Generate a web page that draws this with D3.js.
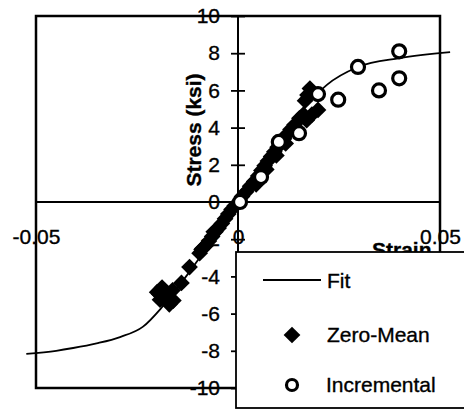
<!DOCTYPE html>
<html>
<head>
<meta charset="utf-8">
<script src="https://cdn.jsdelivr.net/npm/d3@7/dist/d3.min.js"></script>
<style>
  html, body { margin: 0; padding: 0; background: #fff; }
  svg { display: block; }
  text { font-family: "Liberation Sans", Arial, sans-serif; fill: #000; stroke: #000; stroke-width: 0.35px; }
</style>
</head>
<body>
<svg id="chart" width="464" height="411"></svg>
<script>
// Axis ticks
const xTicks = [-0.05, 0, 0.05];
const yTicks = [-10, -8, -6, -4, -2, 0, 2, 4, 6, 8, 10];

// Fitted stress-strain curve
const fitStrain = [-0.0524, -0.045, -0.0408, -0.035, -0.0292, -0.0235, -0.0186, -0.012, -0.006, 0, 0.006, 0.012, 0.017, 0.022, 0.0297, 0.040, 0.0525];
const fitStress = [-8.17, -8.0, -7.85, -7.6, -7.26, -6.7, -5.6, -3.75, -1.9, 0, 1.9, 3.75, 5.2, 6.3, 7.26, 7.74, 8.06];

// Zero-mean test points
const zeroMeanStrain = [
  -0.0200, -0.0193, -0.0188, -0.0180, -0.0170, -0.0162, -0.0175, -0.0140, -0.0120,
  -0.0095, -0.0088, -0.0080, -0.0072, -0.0064, -0.0056, -0.0048, -0.0040, -0.0032, -0.0024, -0.0016, -0.0008,
  0.0010, 0.0020, 0.0030, 0.0040, 0.0050, 0.0058, 0.0066, 0.0074, 0.0082, 0.0090, 0.0098, 0.0106, 0.0114,
  0.0122, 0.0130, 0.0140, 0.0152, 0.0162, 0.0170, 0.0183, 0.0198, 0.0166, 0.0172, 0.0178,
  0.0045, 0.0070, 0.0095, 0.0118, -0.0090, -0.0060, -0.0160, -0.0195
];
const zeroMeanStress = [
  -4.85, -5.25, -4.6, -5.1, -5.5, -4.75, -4.9, -4.35, -3.5,
  -2.75, -2.5, -2.35, -2.1, -1.85, -1.6, -1.4, -1.15, -0.9, -0.65, -0.4, -0.2,
  0.3, 0.55, 0.85, 1.1, 1.4, 1.7, 1.95, 2.2, 2.45, 2.7, 2.95, 3.2, 3.4,
  3.65, 3.9, 4.15, 4.5, 4.7, 4.4, 4.7, 4.95, 5.45, 5.75, 6.1,
  0.95, 1.75, 2.5, 3.15, -2.55, -1.6, -5.3, -4.95
];

// Incremental test points
const incStrain = [0.0399, 0.0297, 0.0399, 0.0349, 0.0248, 0.0198, 0.0151, 0.0101, 0.0057, 0.0005];
const incStress = [8.1, 7.26, 6.65, 6.0, 5.5, 5.8, 3.7, 3.23, 1.34, 0.0];

const svg = d3.select("#chart");
const x = d3.scaleLinear().domain([-0.05, 0.05]).range([36, 440]);
const y = d3.scaleLinear().domain([-10, 10]).range([388, 16]);
const x0 = x(0), y0 = y(0);

// Plot frame
svg.append("rect")
  .attr("x", x(-0.05)).attr("y", y(10))
  .attr("width", x(0.05) - x(-0.05)).attr("height", y(-10) - y(10))
  .attr("fill", "none").attr("stroke", "#000").attr("stroke-width", 2.5);

// Y tick labels (left) and cross ticks
const yAxisL = svg.append("g").attr("transform", `translate(${x0},0)`)
  .call(d3.axisLeft(y).tickValues(yTicks).tickSize(7).tickPadding(11).tickFormat(d => String(d)));
const yAxisR = svg.append("g").attr("transform", `translate(${x0},0)`)
  .call(d3.axisRight(y).tickValues(yTicks).tickSize(7).tickFormat(""));
[yAxisL, yAxisR].forEach(g => {
  g.select(".domain").remove();
  g.selectAll(".tick line").attr("stroke", "#000").attr("stroke-width", 1.8);
});
yAxisL.selectAll("text").attr("font-size", 21).attr("fill", "#000")
  .attr("font-family", "Liberation Sans, Arial, sans-serif");

// X tick labels
const xAxis = svg.append("g").attr("transform", `translate(0,${y0})`)
  .call(d3.axisBottom(x).tickValues(xTicks).tickSize(0).tickPadding(27).tickFormat(d => String(d)));
xAxis.select(".domain").remove();
xAxis.selectAll("text").attr("font-size", 21).attr("fill", "#000")
  .attr("font-family", "Liberation Sans, Arial, sans-serif");

// Zero axes
svg.append("line").attr("x1", x(-0.05)).attr("x2", x(0.05)).attr("y1", y0).attr("y2", y0)
  .attr("stroke", "#000").attr("stroke-width", 1.8);
svg.append("line").attr("x1", x0).attr("x2", x0).attr("y1", y(10)).attr("y2", y(-10))
  .attr("stroke", "#000").attr("stroke-width", 2);

// Axis titles
svg.append("text")
  .attr("transform", `translate(201,130) rotate(-90)`)
  .attr("text-anchor", "middle")
  .attr("font-size", 21).attr("font-weight", "bold")
  .text("Stress (ksi)");
svg.append("text")
  .attr("x", 372).attr("y", 257)
  .attr("font-size", 21).attr("font-weight", "bold")
  .text("Strain");

// Fit curve
const fitData = fitStrain.map((s, i) => [s, fitStress[i]]);
svg.append("path")
  .datum(fitData)
  .attr("fill", "none").attr("stroke", "#000").attr("stroke-width", 1.8)
  .attr("d", d3.line().x(d => x(d[0])).y(d => y(d[1])).curve(d3.curveMonotoneX));

// Zero-Mean diamonds
const diamond = d3.symbol().type(d3.symbolSquare).size(140);
svg.append("g").selectAll("path")
  .data(zeroMeanStrain.map((s, i) => [s, zeroMeanStress[i]]))
  .join("path")
  .attr("d", diamond)
  .attr("transform", d => `translate(${x(d[0])},${y(d[1])}) rotate(45)`)
  .attr("fill", "#000");

// Incremental circles
svg.append("g").selectAll("circle")
  .data(incStrain.map((s, i) => [s, incStress[i]]))
  .join("circle")
  .attr("cx", d => x(d[0])).attr("cy", d => y(d[1]))
  .attr("r", 6.5)
  .attr("fill", "#fff").attr("stroke", "#000").attr("stroke-width", 3.2);

// Legend
const lg = svg.append("g");
lg.append("rect").attr("x", 236).attr("y", 252).attr("width", 260).attr("height", 156)
  .attr("fill", "#fff").attr("stroke", "#000").attr("stroke-width", 1.8);
lg.append("line").attr("x1", 263).attr("x2", 321).attr("y1", 280).attr("y2", 280)
  .attr("stroke", "#000").attr("stroke-width", 1.8);
lg.append("text").attr("x", 327).attr("y", 288).attr("font-size", 21).text("Fit");
lg.append("path").attr("d", diamond)
  .attr("transform", "translate(292,335) rotate(45)").attr("fill", "#000");
lg.append("text").attr("x", 327).attr("y", 342).attr("font-size", 21).text("Zero-Mean");
lg.append("circle").attr("cx", 292).attr("cy", 385).attr("r", 5.5)
  .attr("fill", "#fff").attr("stroke", "#000").attr("stroke-width", 3.2);
lg.append("text").attr("x", 326).attr("y", 392).attr("font-size", 21).text("Incremental");
</script>
</body>
</html>
